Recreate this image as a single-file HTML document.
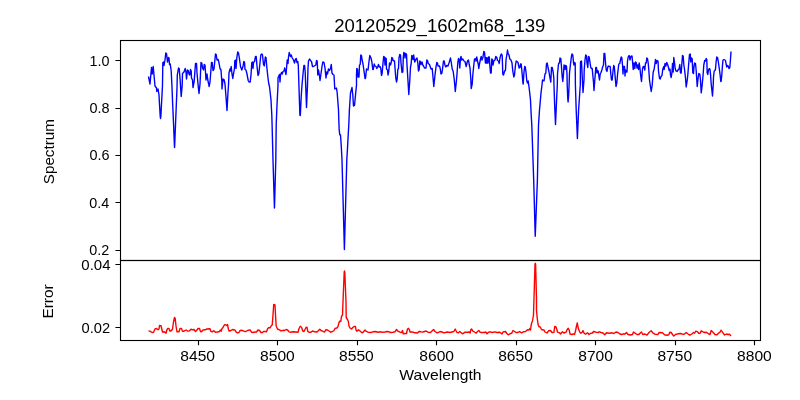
<!DOCTYPE html>
<html><head><meta charset="utf-8"><title>20120529_1602m68_139</title>
<style>html,body{margin:0;padding:0;background:#fff;}svg{display:block;will-change:transform;}text{font-family:"Liberation Sans",sans-serif;fill:#000;}</style></head><body>
<svg width="800" height="400" viewBox="0 0 800 400">
<rect x="0" y="0" width="800" height="400" fill="#ffffff"/>
<polyline fill="none" stroke="#0000ff" stroke-width="1.39" stroke-linejoin="round" stroke-linecap="butt" points="148.5,76.5 150,84 151.5,67.5 152.2,74 153.2,66.5 155,86 156.5,88 156.8,91.5 158,89 159,95 159.6,106 160.2,116 160.5,118.5 160.9,116 161.4,106 162,95 162.5,85 162.8,63 163.5,62 164,65.5 165,60 165.8,53 166.5,53.5 167.5,62 168.5,57.5 169,58 169.5,64.5 170.2,64 171.2,71 171.9,85 172.7,105 173.6,125 174.4,145 174.55,147.5 174.7,145 175.5,125 176.3,105 177,88 177.3,75 178.5,68 179.2,68.5 180,78 181.2,96.5 182.2,85 182.5,73.5 184,72 185.2,68.5 186,72 186.5,79 187.5,70 188.2,70.5 189,74 189.8,75 190.5,69.5 191.2,71 191.5,78 192.5,80 193,87.5 194.2,81 195.5,63.5 196.5,63.5 197,73 198,84 199,93.5 200,84 201,62.5 201.8,63 202.5,68 203.5,70 204.2,64.5 205,65 206,80 207,74 207.8,80 209.2,86.5 210,82 211.5,62.5 212.2,62.5 213,70.5 214,69 215.5,54 216.2,54.5 217,60 218.2,59.5 219,63 220,68.5 221,70 221.8,81 222,89 223,79 224,79.5 225,84 226,97 227,110.5 228,92 228.5,85 229,73 230,69 230.5,71 231.2,66.5 232,74 232.8,78.5 233.5,74 234.5,68.5 234.8,60.5 235.8,60 236,68.5 236.8,58 237.7,52 238.5,53 239.5,59 240.5,66.5 241.8,70 243,66.5 243.8,61.5 244.5,62.5 245,69.5 246,70 247,74 248.2,80.5 249,82 250.2,82 251,75 251.8,62.5 252.5,62 253,68.5 253.5,62.5 254.5,61.5 255.5,56.5 256.2,56.5 257,66 258,75.5 258.8,74 260,63 260.8,55 261.8,54 262.5,55 263.5,64.5 264.3,66 265.3,57 266,57.5 266.8,67 268,78 268.8,84 269.5,86.5 271,100 271.8,115 272.1,125 273,160 274.2,200 274.45,208 274.7,200 275.8,160 276.2,125 277,105 278,85 278,78 278.8,76 279.5,74.5 280,82 280.5,75 281.5,72.5 282.2,74 283,71.5 284,71 284.7,68 285.5,72.5 286,74.5 286.8,65 287.2,60 288,63.5 288.5,57 289.2,52.5 290,55 290.5,56.5 291.2,55 292,57.5 293.5,60 294.5,63 295.5,59 296.2,58.5 297,62.5 297.8,61.5 298.3,65.5 298.7,78 299,88 299.9,115 300.3,115.5 301.3,95 302,85 303.2,72 303.9,65.5 304.6,65.5 305.2,72 306.5,107.5 307.5,85 308,68 308.5,61 309.5,59 310.5,60.5 311.5,61.5 312.5,66.5 313.5,66.5 315,65.5 315.8,65 316.5,60.5 317.2,61 317.8,75 318.5,70 319.5,76 320,80.5 320.8,75 322,66.5 322.8,62 324,62.5 325,68 326,78 326.8,72 327.5,74 328.5,69 329.5,70.5 330.5,68.5 331.3,64.5 332,73 333,74.5 334,75 334.5,84 334.8,89 336.5,88 337.2,93 338.5,110 338.8,120 339.2,130 339.8,134.8 340.5,135 341.2,145 342,160 344.4,249.5 346.8,160 347.4,150 348.2,135 348.8,125 349.4,110 350.5,93 352,87.5 352.8,95 353.5,106 354.5,105.5 355.5,95 356.5,85 356.5,75 356.8,68.5 357.5,69 358,77 359,77 359.5,65 360.2,64.5 360.8,55 361.5,55.5 362,59.5 363,64 364,71 365,78.5 365.5,78.5 366.5,69 368,70 369,61.5 369.8,55.5 371,58 371.8,61.5 372.8,69.5 373.3,69.5 374.2,64 375,66 376,66.5 376.8,68.5 377.8,66.5 378.5,64.5 379.2,67 380,66.5 380.8,68.5 381.5,75.5 382.2,73 383,63 383.7,56.5 384.5,57 385,65 385.5,58 386.2,58.5 386.5,69 387.5,70 388,75 388.8,71 389.5,63 390.5,65 391.2,62.5 391.8,57.5 392.5,58 393,60.5 394.5,61 395,68 395.8,78 396.5,82 397.2,79 397.8,69.5 398.5,68.5 399,58 399.8,54.5 400.5,55 401,63 402,72.5 402.8,72 403.3,57 403.8,52.5 404.5,53 405,58 405.5,53.5 406.5,54 407,65 407.8,78 408.8,94.5 409.8,80 410.5,67 411.2,63.5 411.8,55.5 412.5,56 413,59.5 413.7,55 414.2,59 414.8,62 415.8,59.5 417,58 417.8,63 418.5,71 419.2,69.5 419.8,61 420.5,62 421,64.5 422,62 422.8,65 423.5,66 424.5,68 426,68 426.8,60 427.5,60.5 428.2,63.5 429.5,64.5 430.5,67.5 431,69 432.2,68.5 432.8,75 433.8,86.5 435,75 436,67 436.8,62.5 437.5,63 438,66 439.5,66 440.2,68.5 441,74 441.8,73.5 442.5,69 443.5,61 444.2,61 445,65.5 445.8,67 446.8,65.5 448,66 449,63 450.5,58 451.2,62 452.2,69 453.2,71.5 454.2,79 455.3,91.5 456.5,80 457,74 457.8,62.5 458.5,58.5 459.2,60 459.8,68 460.5,58 461,56.5 461.8,60 462.8,59 464,61 465,61.5 466.2,66.5 467.5,61 468.5,60 469.2,64.5 470,68 470.8,79 471.2,88.5 472.2,84 472.8,75 473.5,68 474.5,59 475.5,58.5 476,61 476.8,57 477.5,61 478.2,64 478.8,68.5 479.5,64 480.5,59 481.2,56.5 482,60 483,57 483.8,51.5 484.5,52 485,58 485.4,63 485.9,57.5 486.3,63 486.8,58 487.2,63 487.7,58 488.1,63 488.5,57 489.3,57 489.8,65 490.5,73 491.2,73 491.8,59 492.5,59.5 493,65 493.8,61 495,60 495.8,56.5 496.8,57.5 497.5,60.5 498.5,61 499.2,63.5 500,58 500.8,55 501.5,54 502.2,55.5 502.8,74 503.5,75 504.5,71.5 505.5,70 506,60 506.8,55 507.5,50 508.2,54 509,55 509.8,59 511,60 512,63 512.8,71 513.8,77 514.5,75 515.5,65 516.2,61 517,61.5 518,62.5 518.5,65 519.2,68 520,67.5 520.5,64 521.2,64 522,72 522.8,82 523.2,84 524,72 524.7,66.5 525.3,67 526,72 526.8,81 527.5,83 528.2,81 529,87 529.5,91 530.5,100 531.2,115 531.8,125 533.7,180 535.1,232 535.25,236.2 535.4,232 537.4,180 538.5,125 539.5,110 541,93 542,85 542.5,80 543.2,80.5 544,81 545,74 545.8,73 546.5,64 547.2,63 548,67.5 549,72 550,78 550.8,82 551.5,67.5 552.2,67.5 553.2,72.5 553.8,78 554,86 554.7,106 555.5,124.5 556.5,102 557.3,85 557.5,74 558.5,64 559.5,62.5 560,58 560.8,58.5 561.5,67 562.2,77 562.8,81.5 563.5,74 564,65 564.8,65.5 565.2,69.5 565.8,65.5 566.5,66.5 567,74 567.2,85 567.8,99 568.1,102 568.6,96 569.1,85 569.5,73 570.5,64 571.5,56 572,54 572.8,55 573.5,62.5 574,65 574.5,62.5 575.2,63 575.3,74 575.4,85 576.2,110 577.4,138.5 578.6,110 579.8,92 580.3,85 580.4,70 580.5,61.5 581.5,61 582,72 583,92.5 584,80 584.2,70 585,60 585.7,55 586.5,56 587,63 587.8,67.5 588.5,56.5 589.2,57 590,62.5 590.8,67.5 591.5,68.5 592.2,68.5 592.8,75 593.5,82 594,90.5 594.8,80 595.8,67.5 596.5,67.5 597,73 597.5,70.5 598.2,71 599,77 599.5,80 600.2,74 601,72.5 602,69.5 602.8,66.5 603.5,65 604,53.5 604.8,53.5 605.5,62.5 606.2,70 607,71.5 607.8,67 608.5,66 609.5,66.5 610.2,66.5 610.8,74 611.5,80 612.2,80 613,71 613.7,65.5 614.3,66.5 615,75 616,86.5 616.8,83 617.5,75 618.8,64 619.8,63.5 620.5,60 621.2,57 621.8,57.5 622.5,65 623,74 623.5,66.5 624.5,66.5 625,76 625.5,70 626.2,72 627,72 627.5,61 628.2,57 629.2,55.5 630,60 630.8,56.5 632,56 632.5,61 633.2,69.5 634,63 634.8,68.5 635.5,62 636.2,62.5 637,68 637.8,65 638.5,69.5 639.2,63 639.8,66.5 640.5,74 641.2,79.5 641.5,81.5 642.5,69 643.2,66.5 644,66.5 644.8,70 645.5,63 646.2,63 646.8,58 647.5,58.5 648.2,63 648.8,70 649.5,80 650.2,85 651.2,91.5 652.2,85 653.2,72 654.2,69 655,63 655.5,59.5 656.2,63.5 657,60.5 658,61 658.5,71 659.5,78.5 660.2,79 661,76.5 662,75.5 662.8,69 663.8,66.5 664.2,69.5 665,63.5 665.8,66 666.8,62.5 667.8,65 668.5,67.5 669.2,70.5 670,69 670.5,75 671.2,77.5 672,72 672.5,63.5 673.2,72 673.8,57.5 674.5,62.5 675.2,68.5 676,71 677,71.5 678,70 679,69 679.8,64.5 680.5,73 681.2,73 681.8,64.5 682.5,55.5 683.2,56 683.8,64.5 684.5,69 685.5,78 686.2,87 687,82 687.8,75 688.8,62.5 689.5,54.5 690.2,54 690.8,62 691.5,58 692.2,59 692.8,73 693.5,73.5 694,66.5 694.7,63 695.5,63.5 696.2,71 697,83 697.2,86.5 698,79 698.8,73.5 699.8,74 700.5,80 701.2,92.8 702.2,85 703,76 703.8,65 704.7,60.5 705.5,61 706.2,58.5 706.8,59.5 707.2,73 707.8,74.5 708.5,70 709.3,68.5 710,69.5 710.5,74 711.2,84 712.5,96 713.2,85 713.5,77 714.2,71 715,70.5 715.5,69 716.2,61 716.8,57 717.5,57.5 718.2,61 719,66.5 720,74 720.8,81.5 721.2,81 721.8,75 722.5,65 723,60 724,59.5 724.8,60 725.5,60.5 726.2,64.5 726.8,67 727.5,65.5 728.2,66 729,68.5 729.8,67.5 730.5,59 731,51.5"/>
<polyline fill="none" stroke="#ff0000" stroke-width="1.39" stroke-linejoin="round" stroke-linecap="butt" points="148.5,330.8 150,331.2 152,332.5 153.5,332.2 155,329 156.5,328.5 158,329.8 159,329 159.5,325.5 161,325.7 161.8,329 162.5,332 164.5,331.8 166,333.2 167,329.5 167.8,328.5 169,328.5 170,331.2 171.5,330.5 172.5,329 173.5,322 174.5,317.5 175.2,318.5 176,326 177,331.8 179,331.8 180,328.5 181.5,328.5 182.5,331.2 184,331.2 186,330 188,331.2 189.5,330.8 191,329.2 192.5,329.8 194,329.5 195.5,331.5 197,330 198,328.5 199.5,328.5 200.5,331.5 201.5,331.8 203,330 205,329.8 207,329 210,328.8 211,331.5 212.5,331.8 213.5,330.8 214.5,331.2 215.5,332.2 217.5,332 219.5,331.5 220.5,330 221.2,331.2 222,328.5 223,327.5 224,325.5 225,324.5 226.5,325.5 227.5,324.5 228.5,329.5 229.2,331.2 231,330.5 232.5,329.5 235,330 236,331.8 237.5,332.8 239,332.5 240,330.5 242,330.3 244,331.2 246,331.5 247.5,330.5 250,329.8 251.5,332.2 253,332.5 255,332 256.5,332 258,330 259.5,330.5 261,332.5 262.5,332.5 263.5,331.5 265,331.5 266.5,331.8 267.5,329 268.5,327.8 270,327.8 271.2,325.8 272.2,325 273,315 273.7,304.5 275,305 275.5,315 276.2,326 277.5,329 279.5,329.8 281,330.8 283,330.3 284.5,330.5 286,329.5 287.5,330 289,331.8 290.5,332.2 293,331.8 296,332 298,332.2 299,328.5 300.2,326.2 301.5,327.2 302.8,331 304,331.5 305,329.5 306,327.5 307,327.2 307.8,331.5 309,332.2 311,332.2 312.5,331 315,331.8 317,332 318.5,330.5 319.8,329.2 321,330.5 322.5,331.2 324.5,332 325.8,329.8 327.5,330 329,331 330.8,332.2 332.5,331.5 334,330.5 335,328.5 336.8,328 338,326.5 339,322.5 340,321 340.8,321.5 341.5,316.5 342.5,315 343,302 344.2,272 344.5,271 344.8,272 346,302 346.2,317.5 347.5,319.5 348.2,321 349,326 350,328 351.5,329 353,327.2 354,326.5 355.5,326.5 356,330 357,331.2 358.5,329.8 360,331 362,332.8 363.5,331.8 365,330 366,331.2 368,332.2 371,332.5 373,331.8 375,331.5 378,332.2 381,331.8 382.5,332.2 385,332 387,331.5 389,331.8 390.5,332.5 393,332.2 395,331.8 396.5,329.5 398,331.2 400,332.2 401.5,332.5 402.5,330.5 403.2,333.8 405,333.5 406.5,333.5 407.5,329 408.5,328.3 409.5,330 410,332 412.5,332 415,332.8 417.5,333 419,331.5 421,331.8 422.5,332.2 424.5,331.5 426,331 428,332.2 430.5,332.5 432,331 433.5,329.5 435,331.5 437,332.8 438.5,332.5 440,331.5 442,332 444,332.8 447,332 450,332.5 453,331.8 454.2,331 455.2,329 456.2,331 457,332.5 458.5,332.8 459.8,331.5 461,332.5 462.5,333.8 464,332.8 465,332.2 467.5,332.2 469.5,332 470.2,333 470.8,329.5 471.5,329 472.8,331 474.5,332 476.2,333.2 477.5,331.5 478.8,330.5 480,332.2 482,332.5 484.5,332.5 485.8,332 487,333.8 488.5,332.2 490,331.8 492.5,332.5 494.8,331.8 497,332.5 499.5,332.2 500.8,333 502,334 503,332 505.5,331.5 506.8,333.5 508.2,334.8 510,333.8 511.8,333 513,330.5 514.5,331.5 516,332.5 518,332.5 519.5,331.5 521.5,332.8 523.5,331.8 525.5,331.5 527.5,329.8 529,330 529.8,328.5 530.5,330 531,326 531.8,322.5 532.5,321 533.5,315 534,298 535,264.3 535.3,263.3 535.6,264.3 536.5,298 536.5,310 537.2,318 538,324 538.8,326.5 540.2,327 541.5,329.5 542.5,329.8 544,330 545,332 547,333 548.5,330.8 550.5,330.5 552,332.5 554,332.2 554.7,326.5 556,327 557,330 557.5,332.2 559.5,332.8 560.5,334 562.5,331.8 564,333 566,332.2 567.2,329.5 568.2,328.3 569.2,330 570,334 572,334.5 573.5,333.8 574.5,334.5 575.5,331 576.5,326 577.3,322.8 578.2,328 579.5,331.5 580.5,333.2 582,332.5 583,330.5 584,333 585.5,334.2 587.5,332.8 589,334.5 591,333.2 592.5,333 593.5,331.5 596,332.2 598,332.5 599.5,331.8 601,332.5 603,333 604.8,334.8 606.5,332.8 609,333.2 612,332.8 614,333.5 616,332 618,332.5 620,334 621.5,334.5 623.5,333.8 625,334 626.5,332.5 628,334.5 630.5,335 632.5,334.5 633.5,332 635,333.2 637,334.5 639,334.5 640.5,332.8 641.5,332 642.8,334.5 645,334 647,335.2 649,332.5 651.2,330.8 652.8,332.8 655,334.2 658,334.5 659,332.5 662.5,332.8 664.5,334.8 667,335.2 668.8,334.8 669.8,332.2 671.2,332.5 672.5,334.5 673.8,336 675.5,334.5 678,333.8 680.5,333.5 682.5,334.2 684.5,334 686.2,332.5 688,334 689.8,335.2 691.8,334 693.5,332.5 694.5,333.2 695.8,331.2 697.5,331.8 699,333.5 700.2,333.2 701.2,330.8 703,331.8 704.5,332.5 706.5,332.2 708.5,333.8 710,334.5 711.2,330.5 713,332.2 715,334.5 717,334.8 719,332.8 720,332.2 721,330.2 722.5,332.2 724.5,335 726.5,334 728,334.5 729.5,334.2 731,336.2"/>
<path d="M198.50 340.5v4.86 M277.50 340.5v4.86 M357.50 340.5v4.86 M436.50 340.5v4.86 M516.50 340.5v4.86 M595.50 340.5v4.86 M675.50 340.5v4.86 M754.50 340.5v4.86 M120.5 60.50h-5.05 M120.5 108.50h-5.05 M120.5 155.50h-5.05 M120.5 202.50h-5.05 M120.5 250.50h-5.05 M120.5 264.50h-5.05 M120.5 327.50h-5.05" stroke="#000" stroke-width="1.11" fill="none"/>
<rect x="120.5" y="40.5" width="640.0" height="220.0" fill="none" stroke="#000" stroke-width="1.11"/>
<rect x="120.5" y="260.5" width="640.0" height="80.0" fill="none" stroke="#000" stroke-width="1.11"/>
<text x="180.35" y="361.3" font-size="14.5" textLength="34.7" lengthAdjust="spacingAndGlyphs">8450</text>
<text x="260.10" y="361.3" font-size="14.5" textLength="34.7" lengthAdjust="spacingAndGlyphs">8500</text>
<text x="339.05" y="361.3" font-size="14.5" textLength="34.7" lengthAdjust="spacingAndGlyphs">8550</text>
<text x="419.35" y="361.3" font-size="14.5" textLength="34.7" lengthAdjust="spacingAndGlyphs">8600</text>
<text x="498.15" y="361.3" font-size="14.5" textLength="34.7" lengthAdjust="spacingAndGlyphs">8650</text>
<text x="578.25" y="361.3" font-size="14.5" textLength="34.7" lengthAdjust="spacingAndGlyphs">8700</text>
<text x="657.45" y="361.3" font-size="14.5" textLength="34.7" lengthAdjust="spacingAndGlyphs">8750</text>
<text x="737.05" y="361.3" font-size="14.5" textLength="34.7" lengthAdjust="spacingAndGlyphs">8800</text>
<text x="89.50" y="65.60" font-size="14.5" textLength="20.0" lengthAdjust="spacingAndGlyphs">1.0</text>
<text x="89.40" y="112.60" font-size="14.5" textLength="20.1" lengthAdjust="spacingAndGlyphs">0.8</text>
<text x="89.40" y="160.30" font-size="14.5" textLength="20.1" lengthAdjust="spacingAndGlyphs">0.6</text>
<text x="89.30" y="207.60" font-size="14.5" textLength="20.0" lengthAdjust="spacingAndGlyphs">0.4</text>
<text x="89.30" y="254.60" font-size="14.5" textLength="20.0" lengthAdjust="spacingAndGlyphs">0.2</text>
<text x="81.30" y="269.60" font-size="14.5" textLength="29.2" lengthAdjust="spacingAndGlyphs">0.04</text>
<text x="81.50" y="332.60" font-size="14.5" textLength="28.6" lengthAdjust="spacingAndGlyphs">0.02</text>
<text x="399.3" y="379.5" font-size="14.3" textLength="82.3" lengthAdjust="spacingAndGlyphs">Wavelength</text>
<text transform="translate(53.5 184.2) rotate(-90)" font-size="14.3" textLength="65" lengthAdjust="spacingAndGlyphs">Spectrum</text>
<text transform="translate(53.4 318.6) rotate(-90)" font-size="14.3" textLength="34.2" lengthAdjust="spacingAndGlyphs">Error</text>
<text x="334.2" y="31.7" font-size="18.2" textLength="211.2" lengthAdjust="spacingAndGlyphs">20120529_1602m68_139</text>
</svg></body></html>
